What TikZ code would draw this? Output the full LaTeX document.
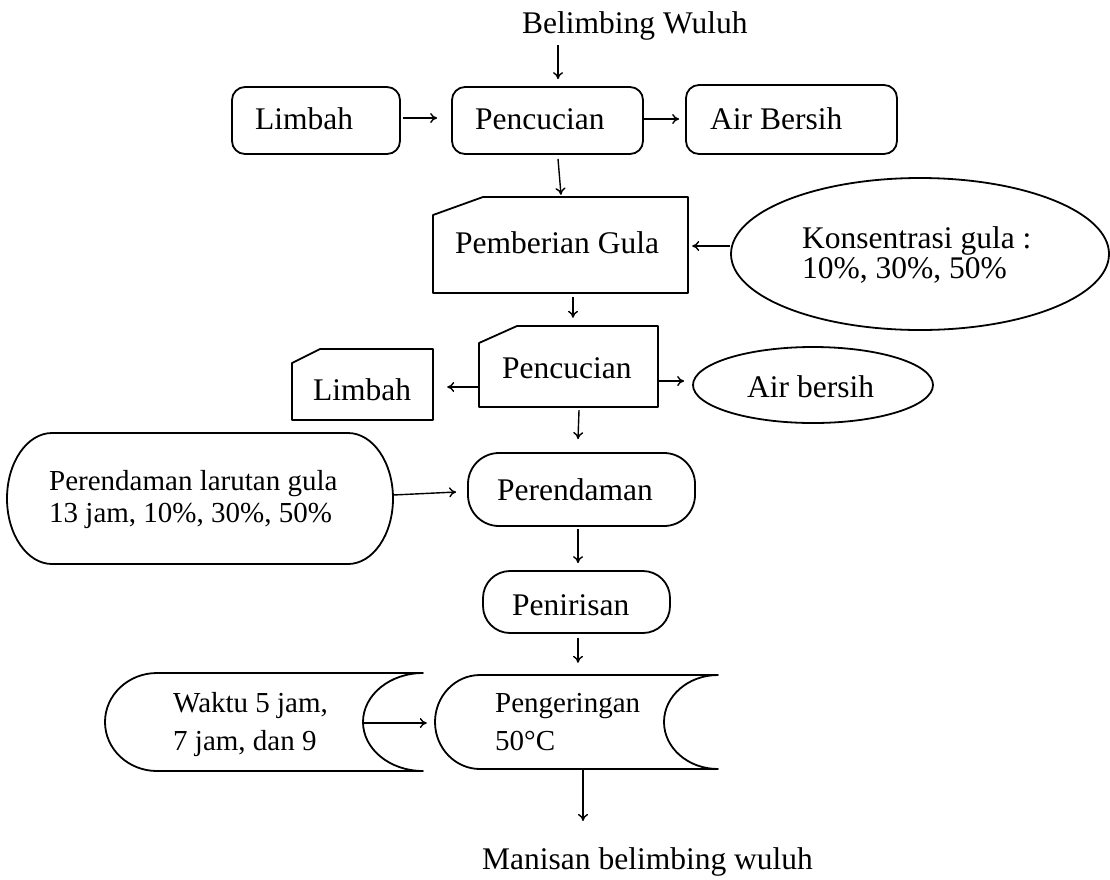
\documentclass[tikz,border=0pt]{standalone}
\usepackage{fontspec}
\setmainfont{Liberation Serif}
\usetikzlibrary{arrows.meta,calc,shapes.geometric}
\newcommand{\twol}[2]{\vtop{\hbox{#1}\hbox{#2}}}
\begin{document}
\begin{tikzpicture}[x=1pt,y=-1pt,
  ln/.style={line width=1.8pt, line join=round},
  rbox/.style 2 args={draw, ln, rounded corners=13pt, minimum width=#1, minimum height=#2, inner sep=0pt},
  frame/.style 2 args={draw=none, minimum width=#1, minimum height=#2, inner sep=0pt},
  oval/.style 2 args={ellipse, draw, ln, minimum width=#1, minimum height=#2, inner sep=0pt},
  txt/.style={anchor=base west, inner sep=0pt, font=\fontsize{31.5}{30}\selectfont},
  stxt/.style={anchor=base west, inner sep=0pt, font=\fontsize{29}{32}\selectfont},
  arr/.style={line width=1.4pt, -{To[length=7pt,width=10pt]}}]
\useasboundingbox (0,0) rectangle (1110,879);

% ---- shapes ----
\node[rbox={168}{67}] (l1) at (316,120.5) {};
\node[rbox={191}{67}] (p1) at (547.5,120.5) {};
\node[rbox={211}{69}] (ab1) at (791.5,119.5) {};

\node[frame={255}{96}] (gula) at (560.5,245) {};
\draw[ln] (433,293) -- (688,293) -- (688,197) -- (483,197) -- (433,215) -- cycle;

\node[oval={378}{152}] (kons) at (920,254) {};

\node[frame={179}{81}] (p2) at (568.5,366.5) {};
\draw[ln] (479,407) -- (658,407) -- (658,326) -- (517,326) -- (479,343) -- cycle;

\node[frame={141}{71}] (l2) at (362.5,384.5) {};
\draw[ln] (292,420) -- (433,420) -- (433,349) -- (320,349) -- (292,363) -- cycle;

\node[oval={240}{76}] (ab2) at (813,385) {};

\node[frame={386}{131}] (plg) at (200,498.5) {};
\draw[ln] (52,433) -- (348,433) arc[start angle=-90,end angle=90,x radius=45,y radius=65.5]
  -- (52,564) arc[start angle=90,end angle=270,x radius=45,y radius=65.5] -- cycle;

\node[rbox={227}{73}, rounded corners=31pt] (per) at (581.5,489.5) {};
\node[rbox={187}{62}, rounded corners=27pt] (pen) at (576.5,602) {};

\node[frame={318}{98}] (wak) at (264,722) {};
\draw[ln] (157,673) -- (423,673) arc[start angle=-90,end angle=-270,x radius=60,y radius=49]
  -- (157,771) arc[start angle=90,end angle=270,x radius=52,y radius=49] -- cycle;

\node[frame={283}{94}] (peng) at (576.5,722) {};
\draw[ln] (480,675) -- (718,675) arc[start angle=-90,end angle=-270,x radius=54,y radius=47]
  -- (480,769) arc[start angle=90,end angle=270,x radius=45,y radius=47] -- cycle;

% ---- texts ----
\node[txt] (tbw) at (522,33) {Belimbing Wuluh};
\node[txt] (tl1) at (255,129) {Limbah};
\node[txt] (tp1) at (475,129) {Pencucian};
\node[txt] (tab1) at (710,129) {Air Bersih};
\node[txt] (tgula) at (455,253) {Pemberian Gula};
\node[txt] (tkons) at (802,248) {\twol{Konsentrasi gula :}{10\%, 30\%, 50\%}};
\node[txt] (tp2) at (502,378) {Pencucian};
\node[txt] (tl2) at (313,400) {Limbah};
\node[txt] (tab2) at (747,397) {Air bersih};
\node[stxt] (tplg) at (49,490) {\twol{Perendaman larutan gula}{13 jam, 10\%, 30\%, 50\%}};
\node[txt] (tper) at (497,500) {Perendaman};
\node[txt] (tpen) at (512,615) {Penirisan};
\node[stxt, font=\fontsize{29}{38}\selectfont] (twak) at (173,712) {\twol{Waktu 5 jam,}{7 jam, dan 9}};
\node[stxt, font=\fontsize{29}{38}\selectfont] (tpeng) at (495,712) {\twol{Pengeringan}{50°C}};
\node[txt] (tman) at (482,869) {Manisan belimbing wuluh};

% ---- connectors ----
\draw[arr] ($(tbw.south -| p1.north)+(10.5,5)$) -- ($(p1.north)+(10.5,-7)$);
\draw[arr] ($(l1.east)+(2,-2.5)$) -- ($(p1.west)+(-14,-2.5)$);
\draw[arr] ($(p1.east)+(0,-1.5)$) -- ($(ab1.west)+(-6,-0.5)$);
\draw[arr] ($(p1.south)+(10.5,4)$) -- ($(gula.north)+(0.5,-2)$);
\draw[arr] ($(kons.west)+(0,-8)$) -- ($(gula.east)+(4,1)$);
\draw[arr] ($(gula.south)+(12.5,4)$) -- ($(p2.north)+(4.5,-8)$);
\draw[arr] ($(p2.west)+(0,20.5)$) -- ($(l2.east)+(14,2.5)$);
\draw[arr] ($(p2.east)+(0,14.5)$) -- ($(ab2.west)+(-8,-4)$);
\draw[arr] ($(p2.south)+(10.5,3)$) -- ($(per.north)+(-3.5,-13)$);
\draw[arr] ($(plg.east)+(0,-3.5)$) -- ($(per.west)+(-11,2.5)$);
\draw[arr] ($(per.south)+(-3.5,2)$) -- ($(pen.north)+(1.5,-7)$);
\draw[arr] ($(pen.south)+(1.5,4)$) -- ($(peng.north)+(1.5,-12)$);
\draw[arr] ($(wak.east)+(-60,1)$) -- ($(peng.west)+(-8,1)$);
\draw[arr] ($(peng.south)+(6.5,0)$) -- ($(tman.north -| peng.south)+(6.5,-26)$);
\end{tikzpicture}
\end{document}
